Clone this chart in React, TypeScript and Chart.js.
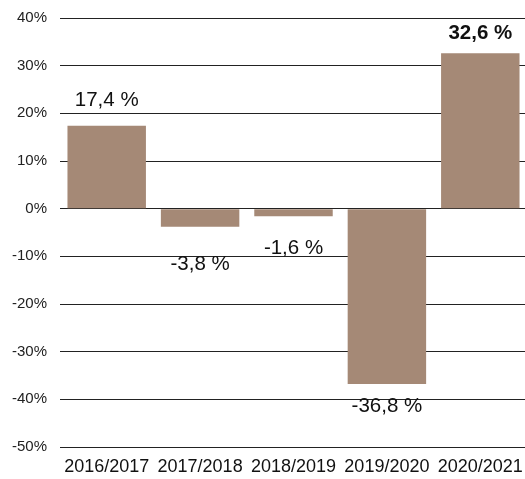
import React, { useEffect, useRef } from "react";
import { Chart, registerables } from "chart.js";

Chart.register(...registerables);

const categories = ["2016/2017", "2017/2018", "2018/2019", "2019/2020", "2020/2021"];
const values = [17.4, -3.8, -1.6, -36.8, 32.6];
const boldLabels = [false, false, false, false, true];
const yMin = -50;
const yMax = 40;
const yStep = 10;

// vertical offset of each value label from its bar end (px)
const labelOffsets = [-25, 38, 32, 22, -20];

const FONT = "'Liberation Sans', Arial, sans-serif";

const valueLabelPlugin = {
  id: "valueLabels",
  afterDatasetsDraw(chart: any) {
    const meta = chart.getDatasetMeta(0);
    const ctx = chart.ctx;
    ctx.save();
    ctx.textAlign = "center";
    ctx.textBaseline = "middle";
    ctx.fillStyle = "#111";
    meta.data.forEach((bar: any, i: number) => {
      const v = values[i];
      const txt = v.toFixed(1).replace(".", ",") + " %";
      ctx.font = (boldLabels[i] ? "bold " : "") + "20.5px " + FONT;
      ctx.fillText(txt, bar.x, bar.y + labelOffsets[i]);
    });
    ctx.restore();
  },
};

export default function App() {
  const ref = useRef<HTMLCanvasElement | null>(null);
  useEffect(() => {
    if (!ref.current) return;
    const chart = new Chart(ref.current, {
      type: "bar",
      data: {
        labels: categories,
        datasets: [
          {
            data: values,
            backgroundColor: "#a58976",
            borderWidth: 0,
            barPercentage: 0.84,
            categoryPercentage: 1,
          },
        ],
      },
      options: {
        responsive: false,
        animation: false,
        devicePixelRatio: 1,
        layout: { padding: { top: 18, right: 0, left: 0, bottom: 0 } },
        plugins: { legend: { display: false }, tooltip: { enabled: false } },
        scales: {
          x: {
            grid: { display: false, drawTicks: false },
            border: { display: false },
            ticks: {
              color: "#111",
              font: { family: FONT, size: 18 },
              padding: 9,
              maxRotation: 0,
              autoSkip: false,
            },
            afterFit: (axis: any) => {
              axis.height = 32;
              axis.paddingLeft = 0;
              axis.paddingRight = 0;
            },
          },
          y: {
            min: yMin,
            max: yMax,
            grid: { color: "#222", lineWidth: 1, drawTicks: false },
            border: { display: false },
            ticks: {
              stepSize: yStep,
              color: "#222",
              font: { family: FONT, size: 15 },
              padding: 13,
              callback: (v: any) => v + "%",
            },
            afterFit: (axis: any) => {
              axis.width = 60;
              axis.paddingTop = 0;
              axis.paddingBottom = 0;
            },
          },
        },
      },
      plugins: [valueLabelPlugin],
    });
    return () => chart.destroy();
  }, []);
  return (
    <div
      style={{
        position: "absolute",
        left: 0,
        top: 0,
        width: 525,
        height: 479,
        overflow: "hidden",
        background: "#fff",
      }}
    >
      <canvas ref={ref} width={527} height={479} style={{ width: 527, height: 479 }} />
    </div>
  );
}
